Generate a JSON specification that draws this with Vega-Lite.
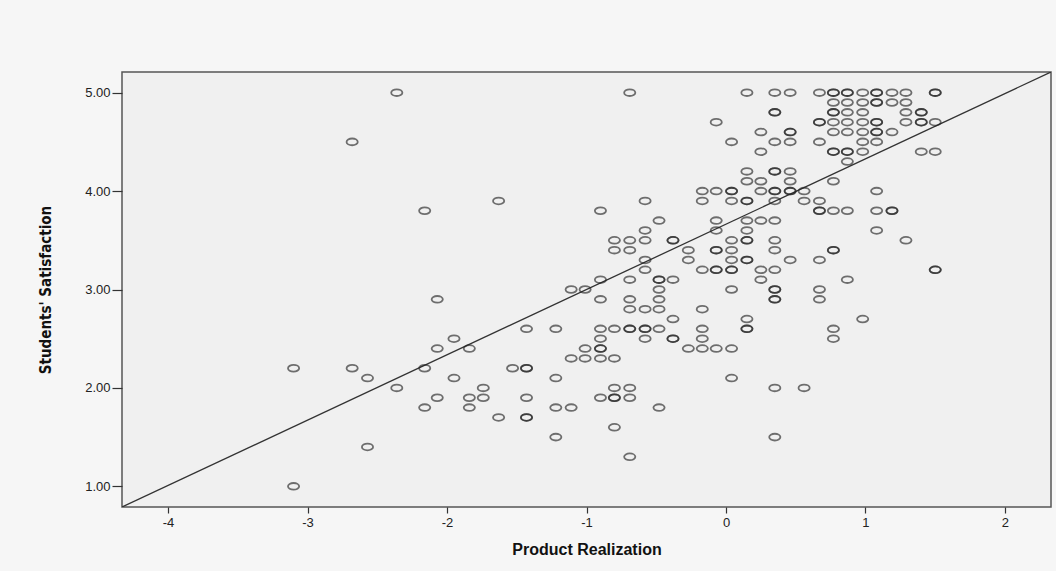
{
  "$schema": "https://vega.github.io/schema/vega-lite/v6.json",
  "autosize": {"type": "none"},
  "padding": {"left": 122, "top": 72, "right": 5, "bottom": 64},
  "width": 929,
  "height": 435,
  "background": "#f6f6f6",
  "config": {
    "view": {"fill": "#f0f0f0", "stroke": "#555555", "strokeWidth": 1.5},
    "axis": {"grid": false, "domain": false, "tickColor": "#333333", "tickWidth": 1.2, "labelColor": "#222222", "labelFont": "Liberation Sans", "labelFontSize": 13, "titleColor": "#111111"}
  },
  "datasets": {
    "pts": [
      {"x": -2.36, "y": 5.0}, {"x": -2.68, "y": 4.5}, {"x": -2.16, "y": 3.8},
      {"x": -2.07, "y": 2.9}, {"x": -2.07, "y": 2.4}, {"x": -3.10, "y": 2.2}, {"x": -2.68, "y": 2.2}, {"x": -2.57, "y": 2.1}, {"x": -2.36, "y": 2.0}, {"x": -2.16, "y": 2.2}, {"x": -2.07, "y": 1.9}, {"x": -2.16, "y": 1.8}, {"x": -2.57, "y": 1.4}, {"x": -3.10, "y": 1.0},
      {"x": -0.69, "y": 5.0}, {"x": -1.63, "y": 3.9}, {"x": -0.90, "y": 3.8}, {"x": -0.80, "y": 3.5}, {"x": -0.69, "y": 3.5}, {"x": -0.80, "y": 3.4}, {"x": -0.69, "y": 3.4}, {"x": -0.90, "y": 3.1}, {"x": -0.69, "y": 3.1}, {"x": -1.11, "y": 3.0}, {"x": -1.01, "y": 3.0},
      {"x": -0.90, "y": 2.9}, {"x": -0.69, "y": 2.9}, {"x": -0.69, "y": 2.8}, {"x": -1.95, "y": 2.5}, {"x": -1.84, "y": 2.4}, {"x": -1.43, "y": 2.6}, {"x": -1.22, "y": 2.6}, {"x": -0.90, "y": 2.6}, {"x": -0.80, "y": 2.6}, {"x": -0.69, "y": 2.6}, {"x": -0.69, "y": 2.6}, {"x": -0.90, "y": 2.5}, {"x": -1.01, "y": 2.4}, {"x": -0.90, "y": 2.4}, {"x": -0.90, "y": 2.4}, {"x": -1.11, "y": 2.3}, {"x": -1.01, "y": 2.3}, {"x": -0.90, "y": 2.3}, {"x": -0.80, "y": 2.3}, {"x": -1.53, "y": 2.2}, {"x": -1.43, "y": 2.2}, {"x": -1.43, "y": 2.2}, {"x": -1.95, "y": 2.1}, {"x": -1.22, "y": 2.1}, {"x": -1.74, "y": 2.0}, {"x": -0.80, "y": 2.0}, {"x": -0.69, "y": 2.0}, {"x": -1.84, "y": 1.9}, {"x": -1.74, "y": 1.9}, {"x": -1.84, "y": 1.8}, {"x": -1.43, "y": 1.9}, {"x": -0.90, "y": 1.9}, {"x": -0.80, "y": 1.9}, {"x": -0.80, "y": 1.9}, {"x": -0.69, "y": 1.9}, {"x": -1.22, "y": 1.8}, {"x": -1.11, "y": 1.8}, {"x": -1.63, "y": 1.7}, {"x": -1.43, "y": 1.7}, {"x": -1.43, "y": 1.7}, {"x": -1.22, "y": 1.5}, {"x": -0.80, "y": 1.6}, {"x": -0.69, "y": 1.3},
      {"x": 0.15, "y": 5.0}, {"x": 0.35, "y": 5.0}, {"x": 0.46, "y": 5.0}, {"x": 0.67, "y": 5.0}, {"x": 0.77, "y": 5.0}, {"x": 0.77, "y": 5.0}, {"x": 0.87, "y": 5.0}, {"x": 0.87, "y": 5.0},
      {"x": 0.77, "y": 4.9}, {"x": 0.87, "y": 4.9},
      {"x": 0.35, "y": 4.8}, {"x": 0.35, "y": 4.8}, {"x": 0.77, "y": 4.8}, {"x": 0.77, "y": 4.8}, {"x": 0.87, "y": 4.8},
      {"x": -0.07, "y": 4.7}, {"x": 0.67, "y": 4.7}, {"x": 0.67, "y": 4.7}, {"x": 0.77, "y": 4.7}, {"x": 0.87, "y": 4.7},
      {"x": 0.25, "y": 4.6}, {"x": 0.46, "y": 4.6}, {"x": 0.46, "y": 4.6}, {"x": 0.77, "y": 4.6}, {"x": 0.87, "y": 4.6},
      {"x": 0.04, "y": 4.5}, {"x": 0.35, "y": 4.5}, {"x": 0.46, "y": 4.5}, {"x": 0.67, "y": 4.5},
      {"x": 0.25, "y": 4.4}, {"x": 0.77, "y": 4.4}, {"x": 0.77, "y": 4.4}, {"x": 0.87, "y": 4.4}, {"x": 0.87, "y": 4.4},
      {"x": 0.87, "y": 4.3},
      {"x": 0.15, "y": 4.2}, {"x": 0.35, "y": 4.2}, {"x": 0.35, "y": 4.2}, {"x": 0.46, "y": 4.2},
      {"x": 0.15, "y": 4.1}, {"x": 0.25, "y": 4.1}, {"x": 0.46, "y": 4.1}, {"x": 0.77, "y": 4.1},
      {"x": -0.17, "y": 4.0}, {"x": -0.07, "y": 4.0}, {"x": 0.04, "y": 4.0}, {"x": 0.04, "y": 4.0}, {"x": 0.25, "y": 4.0}, {"x": 0.35, "y": 4.0}, {"x": 0.35, "y": 4.0}, {"x": 0.46, "y": 4.0}, {"x": 0.46, "y": 4.0}, {"x": 0.56, "y": 4.0},
      {"x": -0.58, "y": 3.9}, {"x": -0.17, "y": 3.9}, {"x": 0.04, "y": 3.9}, {"x": 0.15, "y": 3.9}, {"x": 0.15, "y": 3.9}, {"x": 0.35, "y": 3.9}, {"x": 0.56, "y": 3.9}, {"x": 0.67, "y": 3.9},
      {"x": 0.67, "y": 3.8}, {"x": 0.67, "y": 3.8}, {"x": 0.77, "y": 3.8}, {"x": 0.87, "y": 3.8},
      {"x": -0.48, "y": 3.7}, {"x": -0.07, "y": 3.7}, {"x": 0.15, "y": 3.7}, {"x": 0.25, "y": 3.7}, {"x": 0.35, "y": 3.7},
      {"x": -0.58, "y": 3.6}, {"x": -0.07, "y": 3.6}, {"x": 0.15, "y": 3.6},
      {"x": -0.58, "y": 3.5}, {"x": -0.38, "y": 3.5}, {"x": -0.38, "y": 3.5}, {"x": 0.04, "y": 3.5}, {"x": 0.15, "y": 3.5}, {"x": 0.15, "y": 3.5}, {"x": 0.35, "y": 3.5},
      {"x": -0.27, "y": 3.4}, {"x": -0.07, "y": 3.4}, {"x": -0.07, "y": 3.4}, {"x": 0.04, "y": 3.4}, {"x": 0.35, "y": 3.4}, {"x": 0.77, "y": 3.4}, {"x": 0.77, "y": 3.4},
      {"x": -0.58, "y": 3.3}, {"x": -0.27, "y": 3.3}, {"x": 0.04, "y": 3.3}, {"x": 0.15, "y": 3.3}, {"x": 0.15, "y": 3.3}, {"x": 0.46, "y": 3.3}, {"x": 0.67, "y": 3.3},
      {"x": -0.58, "y": 3.2}, {"x": -0.17, "y": 3.2}, {"x": -0.07, "y": 3.2}, {"x": -0.07, "y": 3.2}, {"x": 0.04, "y": 3.2}, {"x": 0.04, "y": 3.2}, {"x": 0.25, "y": 3.2}, {"x": 0.35, "y": 3.2},
      {"x": -0.48, "y": 3.1}, {"x": -0.48, "y": 3.1}, {"x": -0.38, "y": 3.1}, {"x": 0.25, "y": 3.1}, {"x": 0.87, "y": 3.1},
      {"x": -0.48, "y": 3.0}, {"x": 0.04, "y": 3.0}, {"x": 0.35, "y": 3.0}, {"x": 0.35, "y": 3.0}, {"x": 0.67, "y": 3.0},
      {"x": -0.48, "y": 2.9}, {"x": 0.35, "y": 2.9}, {"x": 0.35, "y": 2.9}, {"x": 0.67, "y": 2.9},
      {"x": -0.58, "y": 2.8}, {"x": -0.48, "y": 2.8}, {"x": -0.17, "y": 2.8},
      {"x": -0.38, "y": 2.7}, {"x": 0.15, "y": 2.7}, {"x": 0.98, "y": 2.7},
      {"x": -0.58, "y": 2.6}, {"x": -0.58, "y": 2.6}, {"x": -0.48, "y": 2.6}, {"x": -0.17, "y": 2.6}, {"x": 0.15, "y": 2.6}, {"x": 0.15, "y": 2.6}, {"x": 0.77, "y": 2.6},
      {"x": -0.58, "y": 2.5}, {"x": -0.38, "y": 2.5}, {"x": -0.38, "y": 2.5}, {"x": -0.17, "y": 2.5}, {"x": 0.77, "y": 2.5},
      {"x": -0.27, "y": 2.4}, {"x": -0.17, "y": 2.4}, {"x": -0.07, "y": 2.4}, {"x": 0.04, "y": 2.4},
      {"x": 0.04, "y": 2.1}, {"x": 0.35, "y": 2.0}, {"x": 0.56, "y": 2.0}, {"x": -0.48, "y": 1.8}, {"x": 0.35, "y": 1.5},
      {"x": 0.98, "y": 5.0}, {"x": 1.08, "y": 5.0}, {"x": 1.08, "y": 5.0}, {"x": 1.19, "y": 5.0}, {"x": 1.29, "y": 5.0}, {"x": 1.50, "y": 5.0}, {"x": 1.50, "y": 5.0},
      {"x": 0.98, "y": 4.9}, {"x": 1.08, "y": 4.9}, {"x": 1.08, "y": 4.9}, {"x": 1.19, "y": 4.9}, {"x": 1.29, "y": 4.9},
      {"x": 0.98, "y": 4.8}, {"x": 1.29, "y": 4.8}, {"x": 1.40, "y": 4.8}, {"x": 1.40, "y": 4.8},
      {"x": 0.98, "y": 4.7}, {"x": 1.08, "y": 4.7}, {"x": 1.08, "y": 4.7}, {"x": 1.29, "y": 4.7}, {"x": 1.40, "y": 4.7}, {"x": 1.40, "y": 4.7}, {"x": 1.50, "y": 4.7},
      {"x": 0.98, "y": 4.6}, {"x": 1.08, "y": 4.6}, {"x": 1.08, "y": 4.6}, {"x": 1.19, "y": 4.6},
      {"x": 0.98, "y": 4.5}, {"x": 1.08, "y": 4.5},
      {"x": 0.98, "y": 4.4}, {"x": 1.40, "y": 4.4}, {"x": 1.50, "y": 4.4},
      {"x": 1.08, "y": 4.0}, {"x": 1.08, "y": 3.8}, {"x": 1.19, "y": 3.8}, {"x": 1.19, "y": 3.8}, {"x": 1.08, "y": 3.6}, {"x": 1.29, "y": 3.5}, {"x": 1.50, "y": 3.2}, {"x": 1.50, "y": 3.2}
    ],
    "ref": [{"x": -4.33, "y": 0.79}, {"x": 2.33, "y": 5.21}]
  },
  "layer": [
    {
      "data": {"name": "ref"},
      "mark": {"type": "line", "color": "#333333", "strokeWidth": 1.3, "clip": true},
      "encoding": {
        "x": {"field": "x", "type": "quantitative"},
        "y": {"field": "y", "type": "quantitative"}
      }
    },
    {
      "data": {"name": "pts"},
      "mark": {"type": "point", "filled": false, "shape": "M -1 0 A 1 0.6 0 1 1 1 0 A 1 0.6 0 1 1 -1 0 Z", "size": 125, "stroke": "#222222", "strokeWidth": 1.8, "strokeOpacity": 0.9},
      "encoding": {
        "x": {
          "field": "x", "type": "quantitative",
          "scale": {"domain": [-4.33, 2.33], "nice": false, "zero": false},
          "axis": {"values": [-4, -3, -2, -1, 0, 1, 2], "labelExpr": "'' + datum.value", "tickSize": 6, "labelPadding": 3, "title": "Product Realization", "titleFont": "Liberation Sans", "titleFontSize": 16, "titleFontWeight": "bold", "titleY": 34, "titleBaseline": "top"}
        },
        "y": {
          "field": "y", "type": "quantitative",
          "scale": {"domain": [0.79, 5.21], "nice": false, "zero": false},
          "axis": {"values": [1, 2, 3, 4, 5], "format": ".2f", "tickSize": 10, "labelPadding": 2, "title": "Students' Satisfaction", "titleFont": "DejaVu Sans Condensed, Liberation Sans Narrow, Roboto Condensed, sans-serif", "titleFontSize": 15, "titleFontWeight": "bold", "titleX": -77, "titleBaseline": "middle"}
        }
      }
    }
  ]
}
